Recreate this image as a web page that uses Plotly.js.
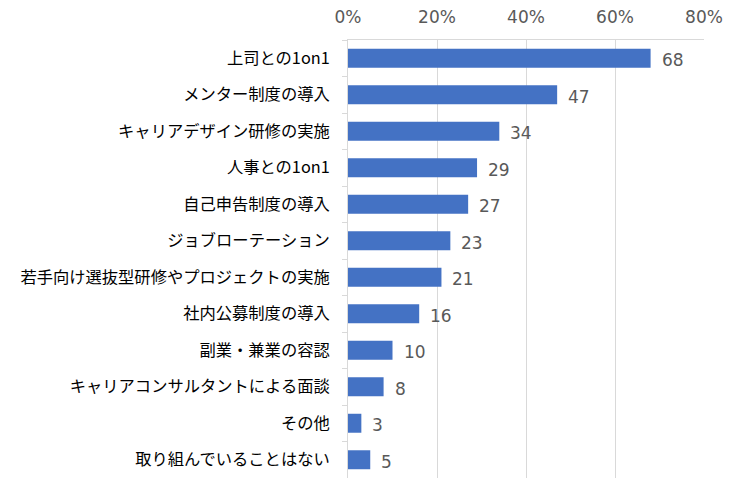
<!DOCTYPE html>
<html><head><meta charset="utf-8">
<script src="https://cdn.plot.ly/plotly-3.0.1.min.js"></script>
<style>html,body{margin:0;padding:0;background:#fff;}</style>
</head><body>
<div id="chart" style="width:750px;height:502px;"></div>
<script>
const categories = ["上司との1on1","メンター制度の導入","キャリアデザイン研修の実施","人事との1on1","自己申告制度の導入","ジョブローテーション","若手向け選抜型研修やプロジェクトの実施","社内公募制度の導入","副業・兼業の容認","キャリアコンサルタントによる面談","その他","取り組んでいることはない"];
const values = [68,47,34,29,27,23,21,16,10,8,3,5];
const xTicks = [0,20,40,60,80];

const trace = {
  type: "bar", orientation: "h",
  x: values, y: categories,
  marker: {color: "#4472C4"},
  width: 0.52,
  hoverinfo: "none"
};
const annotations = values.map((v, i) => ({
  x: v, y: categories[i], xref: "x", yref: "y",
  text: String(v), showarrow: false,
  xanchor: "left", yanchor: "middle", xshift: 9, yshift: -2,
  font: {size: 17, color: "#595959", family: "Verdana, DejaVu Sans, sans-serif"}
}));
const layout = {
  width: 750, height: 502,
  margin: {l: 348, r: 46, t: 40, b: 24},
  paper_bgcolor: "#fff", plot_bgcolor: "#fff",
  showlegend: false,
  annotations: annotations,
  xaxis: {
    side: "top", range: [0, 80], tickvals: xTicks, ticktext: xTicks.map(v => v + "%"),
    showgrid: true, gridcolor: "#d9d9d9", gridwidth: 1,
    showline: true, linecolor: "#d9d9d9", zeroline: false,
    ticks: "", ticklabelstandoff: 9,
    tickfont: {size: 17, color: "#595959", family: "Verdana, DejaVu Sans, sans-serif"},
    fixedrange: true
  },
  yaxis: {
    type: "category", autorange: "reversed",
    categoryorder: "array", categoryarray: categories,
    showline: true, linecolor: "#d9d9d9",
    ticks: "outside", tickson: "boundaries", ticklen: 5, tickcolor: "#d9d9d9",
    ticklabelstandoff: 14,
    tickfont: {size: 16.3, color: "#000", family: "Noto Sans CJK JP, sans-serif"},
    showgrid: false, zeroline: false, fixedrange: true
  }
};
Plotly.newPlot("chart", [trace], layout, {staticPlot: true, displayModeBar: false});
</script>
</body></html>
